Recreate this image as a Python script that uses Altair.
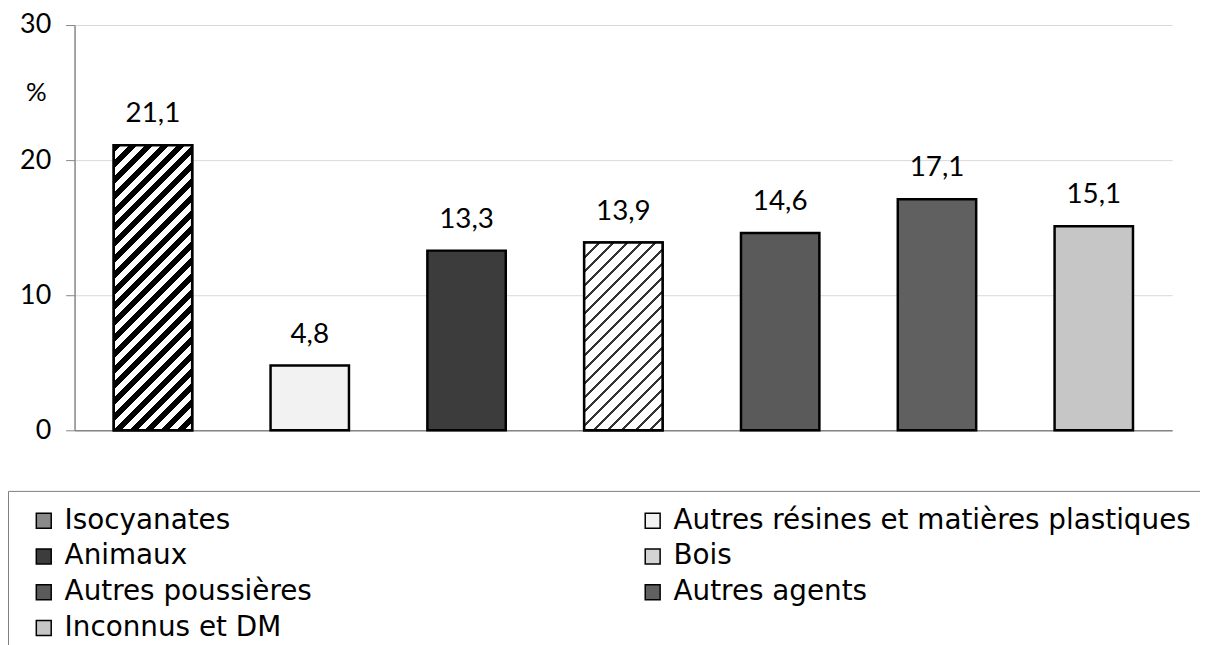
import altair as alt
import pandas as pd

cats = ["Isocyanates", "Autres résines et matières plastiques", "Animaux", "Bois",
        "Autres poussières", "Autres agents", "Inconnus et DM"]
values = [21.1, 4.8, 13.3, 13.9, 14.6, 17.1, 15.1]
greys = ["#8a8a8a", "#f2f2f2", "#3c3c3c", "#d4d4d4", "#5a5a5a", "#606060", "#c6c6c6"]
# legend is filled column by column: first column, then second column
legend_order = ["Isocyanates", "Animaux", "Autres poussières", "Inconnus et DM",
                "Autres résines et matières plastiques", "Bois", "Autres agents"]
yticks = [0, 10, 20, 30]

df = pd.DataFrame({"cat": cats, "v": values})
FONT = "Lato"
LFONT = "DejaVu Sans"
grey_of = dict(zip(cats, greys))


def stripes(n, dark_frac, dark, light):
    stops = []
    for i in range(n):
        a = i / n
        b = (i + dark_frac) / n
        c = (i + 1) / n
        stops += [alt.GradientStop(color=dark, offset=a), alt.GradientStop(color=dark, offset=b),
                  alt.GradientStop(color=light, offset=b), alt.GradientStop(color=light, offset=c)]
    return stops


x = alt.X("cat:N", sort=cats, title=None,
          scale=alt.Scale(paddingInner=0.5, paddingOuter=0.25),
          axis=alt.Axis(labels=False, ticks=False, domainColor="#868686", domainWidth=1.5))
y = alt.Y("v:Q", title="%", scale=alt.Scale(domain=[0, 30]),
          axis=alt.Axis(values=yticks, tickSize=9, tickColor="#868686", domainColor="#868686",
                        domainWidth=1.5, gridColor="#d9d9d9", labelFontSize=27, labelFont=FONT,
                        labelColor="black", labelPadding=15, titleAngle=0, titleX=-39, titleY=68,
                        titleAlign="center", titleBaseline="middle", titleFontSize=26,
                        titleFont=FONT, titleFontWeight="normal", titleColor="black"))

base = alt.Chart(df).encode(x=x, y=y)

bars = base.mark_bar(stroke="black", strokeWidth=2.5).encode(
    fill=alt.Fill("cat:N", sort=legend_order,
                  scale=alt.Scale(domain=legend_order, range=[grey_of[c] for c in legend_order]),
                  legend=alt.Legend(orient="none", legendX=-67, legendY=469, columns=2,
                                    columnPadding=322, rowPadding=8, padding=16,
                                    strokeColor="#7f7f7f", title=None, labelLimit=1000,
                                    labelFontSize=28, labelFont=LFONT, labelColor="black",
                                    symbolType="square", symbolSize=225,
                                    symbolStrokeColor="black", symbolStrokeWidth=1.5,
                                    symbolOffset=6, labelOffset=7, symbolOpacity=1))
)

iso = base.transform_filter(alt.datum.cat == cats[0]).mark_bar(
    stroke="black", strokeWidth=2.5,
    fill=alt.LinearGradient(gradient="linear", x1=0, y1=0, x2=0.326, y2=1.185,
                            stops=stripes(23, 0.5, "black", "white")))

bois = base.transform_filter(alt.datum.cat == cats[3]).mark_bar(
    stroke="black", strokeWidth=2.5,
    fill=alt.LinearGradient(gradient="linear", x1=0, y1=0, x2=0.505, y2=1.207,
                            stops=stripes(19, 0.22, "#333333", "white")))

labels = base.transform_calculate(
    lab="replace(format(datum.v, '.1f'), '.', ',')"
).mark_text(dy=-31, baseline="middle", fontSize=28, font=FONT, color="black").encode(
    text="lab:N")

chart = alt.layer(bars, iso, bois, labels).properties(
    width=1105, height=408,
    padding={"left": 67, "top": 15, "right": 28, "bottom": 214},
    autosize="none",
).configure_view(stroke=None)

chart.save("out.html", embed_options={"renderer": "svg", "actions": False})
